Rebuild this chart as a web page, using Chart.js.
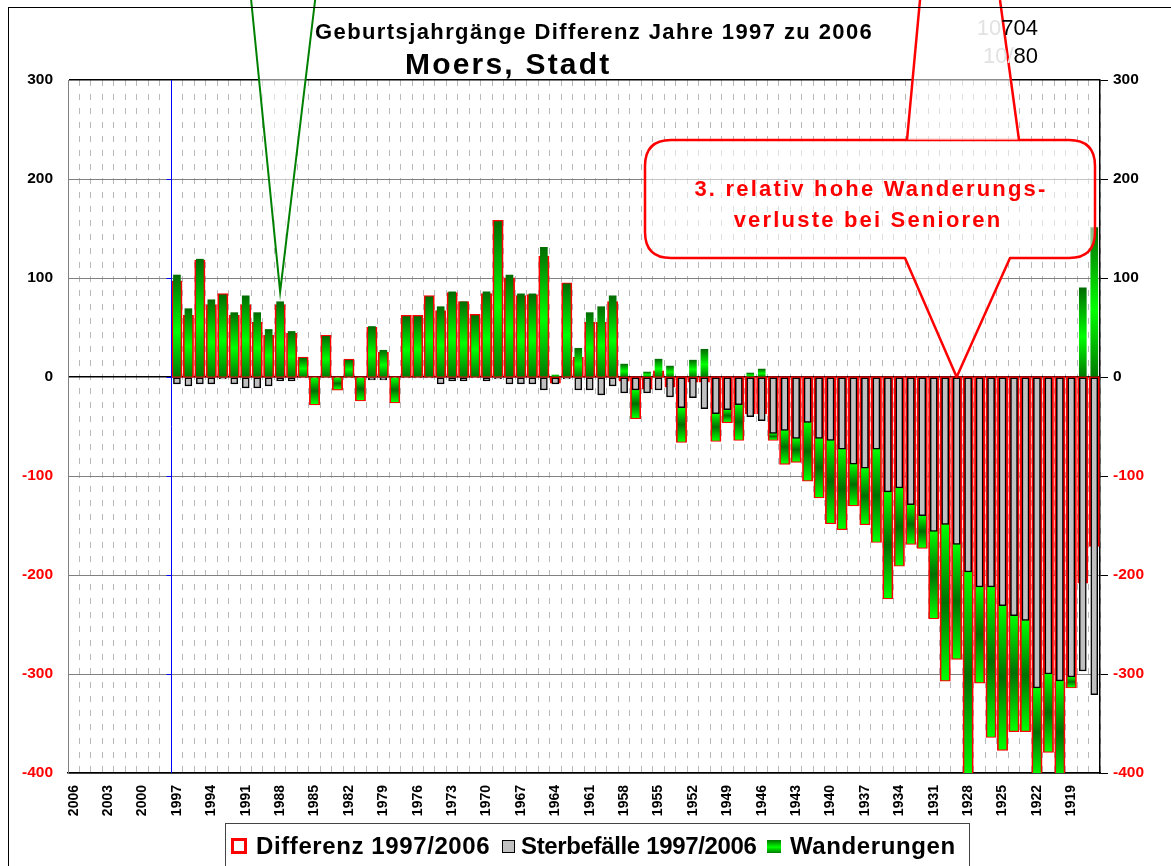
<!DOCTYPE html>
<html lang="de">
<head>
<meta charset="utf-8">
<title>Geburtsjahrgänge Differenz Jahre 1997 zu 2006 - Moers, Stadt</title>
<script src="https://cdn.jsdelivr.net/npm/chart.js@4.4.1/dist/chart.umd.min.js"></script>
<style>
  html, body { margin: 0; padding: 0; background: #fff; overflow: hidden; }
  #wrap { position: relative; width: 1171px; height: 866px; overflow: hidden;
          font-family: "Liberation Sans", Arial, sans-serif; }
  #chart { position: absolute; left: 0; top: 0; }
  .frame { position: absolute; left: 8px; top: 7px; width: 1300px; height: 1000px;
           border-left: 1.5px solid #000; border-top: 1.5px solid #000; pointer-events: none; }
  .txt { position: absolute; white-space: nowrap; font-weight: bold; line-height: 1; }
  #title { left: 315px; top: 21px; font-size: 22px; letter-spacing: 1.4px; }
  #subtitle { left: 405px; top: 49px; font-size: 30px; letter-spacing: 2.2px; }
  .note { color: #ff0000; font-size: 22px; letter-spacing: 2.2px; transform: translateX(-50%); }
  #note1 { left: 871px; top: 178px; }
  #note2 { left: 868px; top: 209px; }
  .code { font-weight: normal; font-size: 22px; right: 133px; }
  .code span { color: #e2e2e2; }
  #code1 { top: 17px; }
  #code2 { top: 45px; }

  /* Legende */
  #legend { position: absolute; left: 225px; top: 823px; width: 745px; height: 70px;
            box-sizing: border-box; border: 1.5px solid #444; background: #fff;
            white-space: nowrap; }
  #legend .item { position: absolute; top: 10px; display: flex; align-items: center;
                  font-weight: bold; font-size: 24px; line-height: 24px; white-space: nowrap; }
  #legend .sw { display: inline-block; flex: none; box-sizing: border-box; }
  #legend .i0 { left: 5px; letter-spacing: 0.6px; }
  #legend .i1 { left: 276px; letter-spacing: -0.35px; }
  #legend .i2 { left: 541px; letter-spacing: 0.6px; }
  .sw-diff { width: 16px; height: 16px; border: 3px solid #ff0000; background: #fff; margin-right: 9px; }
  .sw-tote { width: 13px; height: 13px; border: 1.5px solid #000; background: #c0c0c0; margin-right: 6px; }
  .sw-wand { width: 14px; height: 13px; margin-right: 9px;
             background: linear-gradient(#007000, #00ff00 55%, #007a00); }
</style>
</head>
<body>
<div id="wrap">
  <canvas id="chart" width="1171" height="866"></canvas>
  <div class="frame"></div>
  <div class="txt" id="title">Geburtsjahrgänge Differenz Jahre 1997 zu 2006</div>
  <div class="txt" id="subtitle">Moers, Stadt</div>
  <div class="txt code" id="code1"><span>10</span>704</div>
  <div class="txt code" id="code2"><span>10/</span>80</div>
  <div class="txt note" id="note1">3. relativ hohe Wanderungs-</div>
  <div class="txt note" id="note2">verluste bei Senioren</div>
  <div id="legend"></div>
</div>

<script>
/* ------------------------------------------------------------
   Daten (Geburtsjahrgänge 2006 ... 1917)
   ------------------------------------------------------------ */
const jahrgaenge = [
  '2006','2005','2004','2003','2002','2001','2000','1999','1998','1997',
  '1996','1995','1994','1993','1992','1991','1990','1989','1988','1987',
  '1986','1985','1984','1983','1982','1981','1980','1979','1978','1977',
  '1976','1975','1974','1973','1972','1971','1970','1969','1968','1967',
  '1966','1965','1964','1963','1962','1961','1960','1959','1958','1957',
  '1956','1955','1954','1953','1952','1951','1950','1949','1948','1947',
  '1946','1945','1944','1943','1942','1941','1940','1939','1938','1937',
  '1936','1935','1934','1933','1932','1931','1930','1929','1928','1927',
  '1926','1925','1924','1923','1922','1921','1920','1919','1918','1917'
];

// Differenz 1997/2006
const differenz = [
  null, null, null, null, null, null, null, null, null,
  96, 61, 117, 72, 83, 61, 72, 54, 41, 72,
  43, 19, -27, 41, -12, 17, -23, 49, 24, -25,
  61, 61, 81, 66, 84, 75, 62, 83, 157, 99,
  81, 82, 121, -5, 94, 19, 54, 54, 75, -3,
  -41, -11, 5, -9, -65, -4, -4, -64, -45, -63,
  -36, -36, -63, -87, -85, -104, -121, -147, -153, -129,
  -148, -166, -223, -190, -168, -172, -243, -306, -284, -407,
  -308, -363, -376, -357, -357, -404, -378, -410, -313, -207,
  -170
];

// Sterbefälle 1997/2006
const sterbefaelle = [
  null, null, null, null, null, null, null, null, null,
  -7, -9, -7, -7, -2, -7, -11, -11, -9, -4,
  -4, -1, -1, -1, -1, -1, -1, -3, -3, -1,
  -1, -1, -1, -7, -4, -4, -1, -4, -2, -7,
  -7, -7, -13, -7, -2, -13, -13, -18, -9, -16,
  -13, -16, -13, -20, -31, -21, -32, -37, -33, -28,
  -40, -44, -57, -54, -62, -46, -62, -64, -73, -88,
  -92, -73, -116, -112, -129, -140, -156, -149, -169, -197,
  -212, -212, -231, -241, -246, -314, -300, -307, -303, -297,
  -321
];

// Wanderungen
const wanderungen = [
  null, null, null, null, null, null, null, null, null,
  103, 69, 119, 78, 83, 65, 82, 65, 48, 76,
  46, 19, -26, 41, -11, 17, -22, 51, 27, -24,
  61, 61, 81, 71, 86, 76, 62, 86, 157, 103,
  84, 84, 131, 2, 94, 29, 65, 71, 82, 13,
  -28, 5, 18, 11, -34, 17, 28, -27, -12, -35,
  4, 8, -6, -33, -23, -58, -59, -83, -80, -41,
  -56, -93, -107, -78, -39, -32, -87, -157, -115, -210,
  -96, -151, -145, -116, -111, -90, -78, -103, -10, 90,
  151
];

const yMin = -400;
const yMax = 300;
const yStep = 100;

const ersterJahrgang = '1997';      // blaue Linie vor diesem Jahrgang
const gruenerPfeilJahr = '1988';    // grüne Sprechblase zeigt hierhin
const gruenerPfeilWert = 86;
const roterPfeilJahr = '1929';      // rote Sprechblase zeigt hierhin
const roterPfeilWert = 0;

/* ------------------------------------------------------------
   Hilfsfunktionen
   ------------------------------------------------------------ */
const FONT = '"Liberation Sans", Arial, sans-serif';
Chart.defaults.font.family = FONT;
Chart.defaults.color = '#000';

// Verlauf je Balken: positiv dunkel-hell-dunkel, negativ hell-dunkel-hell
function gruenVerlauf(c) {
  const chart = c.chart;
  const y = chart.scales.y;
  if (c.type !== 'data' || !y || c.raw == null) return '#00c000';
  const w = c.raw;
  const base = w >= 0 ? 0 : Math.min(0, sterbefaelle[c.dataIndex] || 0);
  const p0 = y.getPixelForValue(base);
  const p1 = y.getPixelForValue(base + w);
  const top = Math.min(p0, p1), bot = Math.max(p0, p1);
  if (bot - top < 2) return '#00c000';
  const g = chart.ctx.createLinearGradient(0, top, 0, bot);
  if (w >= 0) {
    g.addColorStop(0, '#006c00');
    g.addColorStop(0.55, '#00ff00');
    g.addColorStop(1, '#007800');
  } else {
    g.addColorStop(0, '#00ff00');
    g.addColorStop(0.5, '#007000');
    g.addColorStop(1, '#00ff00');
  }
  return g;
}

const tickFarbe = c => (c.tick && c.tick.value < 0) ? '#ff0000' : '#000000';

/* ------------------------------------------------------------
   Sprechblasen + blaue Linie
   ------------------------------------------------------------ */
const sprechblasen = {
  id: 'sprechblasen',
  afterDatasetsDraw(chart) {
    const { ctx, scales: { x, y }, chartArea } = chart;
    const labels = x.getLabels();
    ctx.save();

    // blaue Linie vor 1997 mit kleinen Strichen
    const i97 = labels.indexOf(ersterJahrgang);
    const bx = Math.round((x.getPixelForValue(i97) + x.getPixelForValue(i97 - 1)) / 2) + 0.5;
    ctx.strokeStyle = '#0000ff';
    ctx.lineWidth = 1;
    ctx.beginPath();
    ctx.moveTo(bx, chartArea.top);
    ctx.lineTo(bx, chartArea.bottom);
    ctx.stroke();
    for (let v = yMin + yStep; v < yMax; v += yStep) {
      const py = Math.round(y.getPixelForValue(v)) + 0.5;
      ctx.beginPath();
      ctx.moveTo(bx - 5, py);
      ctx.lineTo(bx, py);
      ctx.stroke();
    }

    // grüne Sprechblase (Zeiger von oben)
    const gx = x.getPixelForValue(labels.indexOf(gruenerPfeilJahr));
    const gy = y.getPixelForValue(gruenerPfeilWert);
    ctx.beginPath();
    ctx.moveTo(gx - 29, 0);
    ctx.lineTo(gx, gy);
    ctx.lineTo(gx + 35, 0);
    ctx.closePath();
    ctx.fillStyle = 'rgba(255,255,255,0.55)';
    ctx.fill();
    ctx.beginPath();
    ctx.moveTo(gx - 29, 0);
    ctx.lineTo(gx, gy);
    ctx.lineTo(gx + 35, 0);
    ctx.strokeStyle = '#008000';
    ctx.lineWidth = 2;
    ctx.stroke();

    // rote Sprechblase
    const rx = x.getPixelForValue(labels.indexOf(roterPfeilJahr));
    const ry = y.getPixelForValue(roterPfeilWert);
    const L = 645, T = 140, R = 1095, B = 258, rad = 26;
    const p1 = 905, p2 = 1010;
    ctx.beginPath();
    ctx.moveTo(p1, B);
    ctx.lineTo(L + rad, B);
    ctx.quadraticCurveTo(L, B, L, B - rad);
    ctx.lineTo(L, T + rad);
    ctx.quadraticCurveTo(L, T, L + rad, T);
    ctx.lineTo(R - rad, T);
    ctx.quadraticCurveTo(R, T, R, T + rad);
    ctx.lineTo(R, B - rad);
    ctx.quadraticCurveTo(R, B, R - rad, B);
    ctx.lineTo(p2, B);
    ctx.lineTo(rx, ry);
    ctx.closePath();
    ctx.fillStyle = 'rgba(255,255,255,0.55)';
    ctx.fill();
    ctx.strokeStyle = '#ff0000';
    ctx.lineWidth = 2.5;
    ctx.lineJoin = 'round';
    ctx.stroke();

    // roter Zeiger einer weiteren Blase (nach oben aus dem Bild)
    ctx.beginPath();
    ctx.moveTo(907, T);
    ctx.lineTo(920, 0);
    ctx.lineTo(1000, 0);
    ctx.lineTo(1019, T);
    ctx.closePath();
    ctx.fillStyle = 'rgba(255,255,255,0.55)';
    ctx.fill();
    ctx.beginPath();
    ctx.moveTo(907, T);
    ctx.lineTo(920, 0);
    ctx.moveTo(1019, T);
    ctx.lineTo(1000, 0);
    ctx.stroke();

    ctx.restore();
  }
};

/* ------------------------------------------------------------
   Diagramm
   ------------------------------------------------------------ */
const chart = new Chart(document.getElementById('chart'), {
  type: 'bar',
  data: {
    labels: jahrgaenge,
    datasets: [
      {
        label: 'Differenz 1997/2006',
        data: differenz,
        stack: 'diff',
        grouped: false,
        order: 2,
        backgroundColor: 'rgba(255,255,255,0)',
        borderColor: '#ff0000',
        borderWidth: 2,
        borderSkipped: false,
        barThickness: 8,
        inflateAmount: 1.5,
      },
      {
        label: 'Sterbefälle 1997/2006',
        data: sterbefaelle,
        stack: 'main',
        order: 1,
        backgroundColor: '#c0c0c0',
        borderColor: '#000000',
        borderWidth: 1.5,
        borderSkipped: false,
        barThickness: 7,
      },
      {
        label: 'Wanderungen',
        data: wanderungen,
        stack: 'main',
        order: 1,
        backgroundColor: gruenVerlauf,
        borderWidth: 0,
        barThickness: 7,
      },
    ],
  },
  options: {
    responsive: false,
    animation: false,
    layout: { padding: { top: 80, left: 0, right: 0, bottom: 0 } },
    plugins: {
      legend: { display: false },
      tooltip: { enabled: false },
    },
    scales: {
      x: {
        afterFit: s => { s.height = 93; },
        grid: {
          offset: true,
          drawTicks: false,
          color: '#b8b8b8',
          lineWidth: 1,
        },
        border: { display: true, color: '#000', width: 1.5, dash: [6, 8] },
        ticks: {
          autoSkip: false,
          minRotation: 90,
          maxRotation: 90,
          padding: 12,
          font: { size: 14, weight: 'bold' },
          color: '#000',
          callback(v, i) { return i % 3 === 0 ? this.getLabelForValue(v) : ''; },
        },
      },
      y: {
        stacked: true,
        min: yMin,
        max: yMax,
        afterFit: s => { s.width = 68; },
        grid: {
          drawTicks: false,
          color: c => (c.tick.value === 0 || c.tick.value === yMax) ? '#000' : '#808080',
          lineWidth: c => (c.tick.value === 0 || c.tick.value === yMax) ? 1.5 : 1,
        },
        border: { display: true, color: '#808080', width: 1 },
        ticks: {
          stepSize: yStep,
          padding: 15,
          font: { size: 15.5, weight: 'bold' },
          color: tickFarbe,
        },
      },
      y2: {
        position: 'right',
        min: yMin,
        max: yMax,
        afterFit: s => { s.width = 71; },
        grid: { drawOnChartArea: false, drawTicks: true, tickLength: 8, tickColor: '#000', tickWidth: 1 },
        border: { display: true, color: '#000', width: 1.5 },
        ticks: {
          stepSize: yStep,
          padding: 5,
          font: { size: 15.5, weight: 'bold' },
          color: tickFarbe,
        },
      },
    },
  },
  plugins: [sprechblasen],
});

/* ------------------------------------------------------------
   Legende (HTML, aus den Datensätzen)
   ------------------------------------------------------------ */
const legendEl = document.getElementById('legend');
const swatchKlassen = ['sw-diff', 'sw-tote', 'sw-wand'];
chart.data.datasets.forEach((ds, i) => {
  const item = document.createElement('span');
  item.className = 'item i' + i;
  const sw = document.createElement('span');
  sw.className = 'sw ' + swatchKlassen[i];
  const t = document.createElement('span');
  t.textContent = ds.label;
  item.appendChild(sw);
  item.appendChild(t);
  legendEl.appendChild(item);
});
</script>
</body>
</html>
